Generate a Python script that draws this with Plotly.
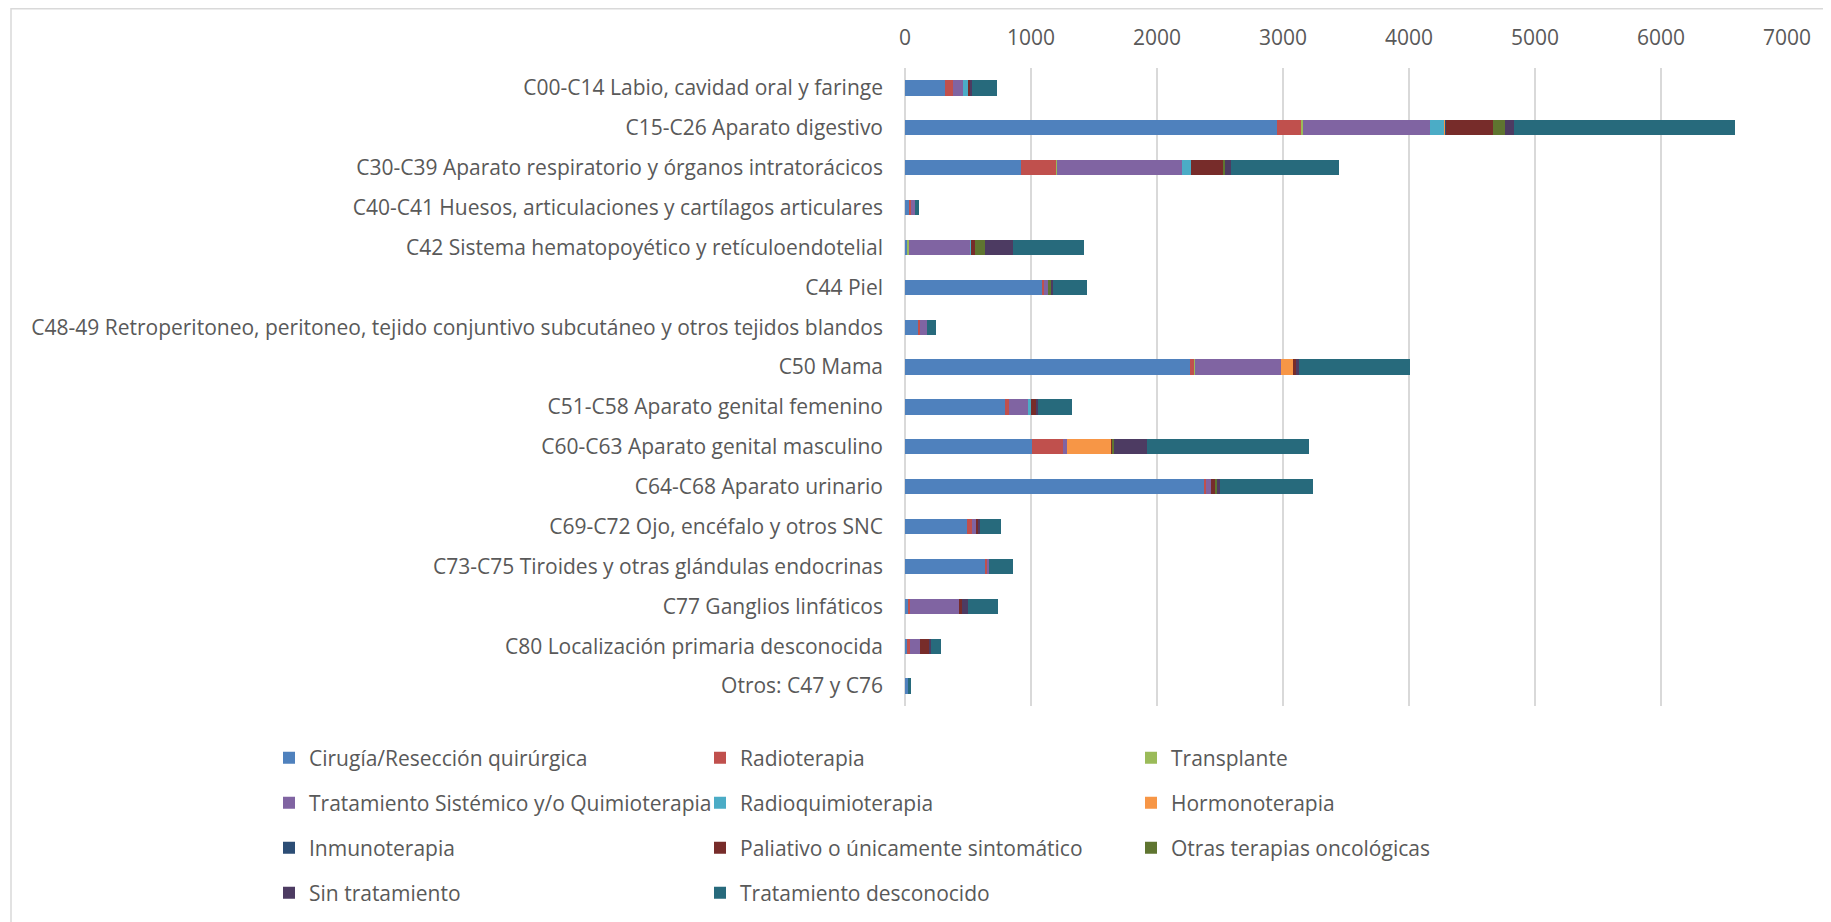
import plotly.graph_objects as go

# categories, top to bottom
categorias = [
    "C00-C14 Labio, cavidad oral y faringe",
    "C15-C26 Aparato digestivo",
    "C30-C39 Aparato respiratorio y órganos intratorácicos",
    "C40-C41 Huesos, articulaciones y cartílagos articulares",
    "C42 Sistema hematopoyético y retículoendotelial",
    "C44 Piel",
    "C48-49 Retroperitoneo, peritoneo, tejido conjuntivo subcutáneo y otros tejidos blandos",
    "C50 Mama",
    "C51-C58 Aparato genital femenino",
    "C60-C63 Aparato genital masculino",
    "C64-C68 Aparato urinario",
    "C69-C72 Ojo, encéfalo y otros SNC",
    "C73-C75 Tiroides y otras glándulas endocrinas",
    "C77 Ganglios linfáticos",
    "C80 Localización primaria desconocida",
    "Otros: C47 y C76",
]

# series values (same order as categorias)
cirugia = [320, 2952, 918, 34, 16, 1090, 106, 2265, 791, 1005, 2376, 495, 638, 26, 13, 21]
radioterapia = [61, 190, 283, 16, 6, 16, 16, 34, 37, 249, 13, 37, 16, 13, 24, 0]
transplante = [3, 16, 8, 0, 10, 0, 0, 2, 0, 0, 0, 0, 0, 0, 0, 0]
sistemico = [74, 1008, 987, 29, 484, 26, 53, 680, 151, 34, 40, 32, 13, 386, 79, 0]
radioquimio = [42, 116, 77, 0, 8, 0, 0, 0, 21, 0, 0, 0, 0, 0, 0, 0]
hormono = [0, 10, 0, 0, 0, 0, 0, 98, 0, 349, 0, 0, 0, 0, 0, 0]
inmuno = [0, 4, 0, 0, 0, 0, 0, 0, 0, 0, 0, 0, 0, 0, 0, 0]
paliativo = [19, 373, 257, 0, 29, 0, 0, 21, 42, 10, 29, 13, 0, 24, 77, 0]
otras = [0, 93, 10, 0, 85, 24, 0, 0, 0, 13, 18, 0, 0, 0, 0, 0]
sin_trat = [10, 69, 50, 0, 220, 21, 0, 26, 10, 257, 24, 16, 0, 48, 10, 0]
desconocido = [204, 1757, 855, 34, 561, 267, 74, 883, 272, 1288, 738, 167, 193, 238, 82, 26]

series = [
    ("Cirugía/Resección quirúrgica", cirugia, "#4F81BD", "legend"),
    ("Radioterapia", radioterapia, "#C0504D", "legend"),
    ("Transplante", transplante, "#9BBB59", "legend"),
    ("Tratamiento Sistémico y/o Quimioterapia", sistemico, "#8064A2", "legend2"),
    ("Radioquimioterapia", radioquimio, "#4BACC6", "legend2"),
    ("Hormonoterapia", hormono, "#F79646", "legend2"),
    ("Inmunoterapia", inmuno, "#2C4D75", "legend3"),
    ("Paliativo o únicamente sintomático", paliativo, "#772C2A", "legend3"),
    ("Otras terapias oncológicas", otras, "#5F7530", "legend3"),
    ("Sin tratamiento", sin_trat, "#4D3B62", "legend4"),
    ("Tratamiento desconocido", desconocido, "#276A7C", "legend4"),
]

W, H = 1831, 922
# the page puts the figure 8px in from the top-left corner, so pixel
# positions below are the reference positions minus 8
L, R, T, B = 897, 52, 60, 224
FONT = "Open Sans"
FS = 21
GREY = "#595959"
pw, ph = W - L - R, H - T - B

fig = go.Figure()
for name, vals, color, leg in series:
    fig.add_trace(go.Bar(
        y=categorias, x=vals, name=name, orientation="h",
        marker=dict(color=color, line=dict(width=0)),
        legend=leg,
    ))

# one legend per row so the rows sit where the reference has them
row_y = [750, 795, 840, 885]
legends = {}
for i, ly in enumerate(row_y):
    key = "legend" if i == 0 else "legend%d" % (i + 1)
    legends[key] = dict(
        orientation="h", xref="paper", yref="paper",
        x=(261 - L) / pw, xanchor="left", y=(H - B - ly) / ph, yanchor="middle",
        entrywidth=386, entrywidthmode="pixels",
        font=dict(family=FONT, size=FS, color=GREY),
        bgcolor="rgba(0,0,0,0)", traceorder="normal",
    )

fig.update_layout(
    width=W, height=H,
    barmode="stack", bargap=0.615,
    paper_bgcolor="white", plot_bgcolor="white",
    margin=dict(l=L, r=R, t=T, b=B, autoexpand=False),
    font=dict(family=FONT, size=FS, color=GREY),
    xaxis=dict(
        side="top", range=[0, 7000], dtick=1000, tick0=0,
        showgrid=True, gridcolor="#D9D9D9", gridwidth=2,
        zeroline=True, zerolinecolor="#D9D9D9", zerolinewidth=2,
        showline=False, ticks="", ticklabelstandoff=18, automargin=False,
        tickfont=dict(family=FONT, size=FS, color=GREY),
    ),
    yaxis=dict(
        autorange="reversed", showgrid=False, zeroline=False, showline=False,
        ticks="", ticklabelstandoff=21, automargin=False,
        tickfont=dict(family=FONT, size=FS, color=GREY),
    ),
    shapes=[dict(
        type="rect", xref="paper", yref="paper",
        x0=(3 - L) / pw, x1=(W + 20 - L) / pw,
        y0=(H - B - (H + 20)) / ph, y1=(H - B - 0.8) / ph,
        line=dict(color="#D9D9D9", width=1.5), fillcolor="rgba(0,0,0,0)",
        layer="below",
    )],
    **legends,
)

fig.write_html("out.html")
